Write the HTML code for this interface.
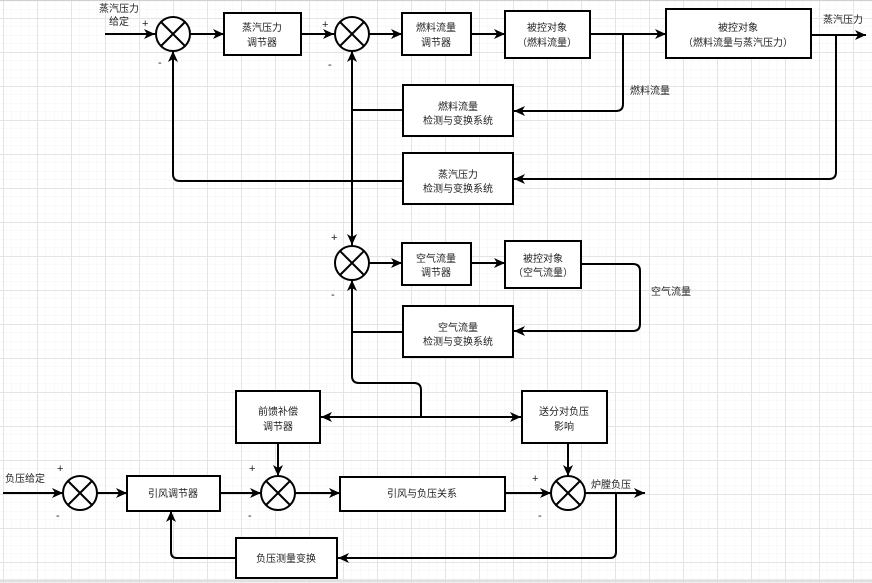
<!DOCTYPE html>
<html><head><meta charset="utf-8"><style>
html,body{margin:0;padding:0;background:#fff;}
svg{display:block;}
text{font-family:"Liberation Sans","Noto Sans CJK SC",sans-serif;font-size:10px;fill:#222;}
</style></head><body>
<svg width="872" height="583" viewBox="0 0 872 583" xmlns="http://www.w3.org/2000/svg">
<defs>
<pattern id="minor" width="8.5" height="8.5" patternUnits="userSpaceOnUse" x="3" y="1">
<path d="M0 0H8.5M0 0V8.5" stroke="#f3f3f3" stroke-width="1" fill="none"/>
</pattern>
<pattern id="major" width="34" height="34" patternUnits="userSpaceOnUse" x="3" y="18">
<path d="M0 0.5H34M0.5 0V34" stroke="#e4e4e4" stroke-width="1" fill="none"/>
</pattern>
<marker id="a" markerWidth="12" markerHeight="10" refX="11" refY="5" orient="auto" markerUnits="userSpaceOnUse">
<path d="M0 0L11 5L0 10L3 5Z" fill="#000"/>
</marker>
<marker id="as" markerWidth="12" markerHeight="10" refX="1" refY="5" orient="auto" markerUnits="userSpaceOnUse">
<path d="M12 0L1 5L12 10L9 5Z" fill="#000"/>
</marker>
</defs>
<rect width="872" height="583" fill="#fff"/>
<rect width="872" height="583" fill="url(#minor)"/>
<rect width="872" height="583" fill="url(#major)"/>
<line x1="0" y1="0.5" x2="872" y2="0.5" stroke="#d0d0d0"/>
<line x1="0" y1="581" x2="872" y2="581" stroke="#e0e0e0" stroke-width="3"/>

<g stroke="#000" stroke-width="2" fill="none">
<!-- top row -->
<line x1="105" y1="34" x2="155" y2="34" marker-end="url(#a)"/>
<line x1="190" y1="34" x2="224" y2="34" marker-end="url(#a)"/>
<line x1="301" y1="34" x2="334" y2="34" marker-end="url(#a)"/>
<line x1="369" y1="34" x2="402" y2="34" marker-end="url(#a)"/>
<line x1="471" y1="34" x2="505" y2="34" marker-end="url(#a)"/>
<line x1="590" y1="34" x2="666" y2="34" marker-end="url(#a)"/>
<line x1="811" y1="35" x2="866" y2="35" marker-end="url(#a)"/>
<path d="M623 34V104Q623 111 616 111H514" marker-end="url(#a)"/>
<path d="M836 35V172Q836 179 829 179H514" marker-end="url(#a)"/>
<path d="M403 181H180Q173 181 173 174V51" marker-end="url(#a)"/>
<path d="M403 110H352"/>
<line x1="352" y1="110" x2="352" y2="51" marker-end="url(#a)"/>
<line x1="352" y1="110" x2="352" y2="245" marker-end="url(#a)"/>
<!-- air row -->
<line x1="369" y1="263" x2="402" y2="263" marker-end="url(#a)"/>
<line x1="471" y1="263" x2="505" y2="263" marker-end="url(#a)"/>
<path d="M581 264H633Q640 264 640 271V324Q640 331 633 331H514" marker-end="url(#a)"/>
<path d="M403 332H352"/>
<path d="M421 417V390Q421 383 414 383H359Q352 383 352 376V280" marker-end="url(#a)"/>
<line x1="321" y1="417" x2="521" y2="417" marker-start="url(#as)" marker-end="url(#a)"/>
<!-- bottom row -->
<line x1="3" y1="493" x2="63" y2="493" marker-end="url(#a)"/>
<line x1="97" y1="493" x2="127" y2="493" marker-end="url(#a)"/>
<line x1="220" y1="493" x2="261" y2="493" marker-end="url(#a)"/>
<line x1="295" y1="493" x2="340" y2="493" marker-end="url(#a)"/>
<line x1="505" y1="493" x2="551" y2="493" marker-end="url(#a)"/>
<line x1="585" y1="493" x2="645" y2="493" marker-end="url(#a)"/>
<line x1="278" y1="443" x2="278" y2="476" marker-end="url(#a)"/>
<line x1="568" y1="443" x2="568" y2="476" marker-end="url(#a)"/>
<path d="M616 493V552Q616 558 610 558H338" marker-end="url(#a)"/>
<path d="M236 558H177Q171 558 171 552V511" marker-end="url(#a)"/>

<!-- summers -->
<g id="s">
</g>
<circle cx="173" cy="34" r="17" fill="#fff"/><path d="M161 22L185 46M185 22L161 46"/>
<circle cx="352" cy="34" r="17" fill="#fff"/><path d="M340 22L364 46M364 22L340 46"/>
<circle cx="352" cy="263" r="17" fill="#fff"/><path d="M340 251L364 275M364 251L340 275"/>
<circle cx="80" cy="493" r="17" fill="#fff"/><path d="M68 481L92 505M92 481L68 505"/>
<circle cx="278" cy="493" r="17" fill="#fff"/><path d="M266 481L290 505M290 481L266 505"/>
<circle cx="568" cy="493" r="17" fill="#fff"/><path d="M556 481L580 505M580 481L556 505"/>

<!-- boxes -->
<rect x="224" y="13" width="77" height="42" fill="#fff"/>
<rect x="402" y="13" width="69" height="42" fill="#fff"/>
<rect x="505" y="11" width="85" height="47" fill="#fff"/>
<rect x="666" y="9" width="145" height="49" fill="#fff"/>
<rect x="403" y="85" width="110" height="51" fill="#fff"/>
<rect x="403" y="153" width="110" height="51" fill="#fff"/>
<rect x="402" y="243" width="69" height="42" fill="#fff"/>
<rect x="505" y="241" width="76" height="47" fill="#fff"/>
<rect x="403" y="306" width="110" height="51" fill="#fff"/>
<rect x="236" y="391" width="84" height="52" fill="#fff"/>
<rect x="522" y="391" width="85" height="52" fill="#fff"/>
<rect x="127" y="476" width="93" height="35" fill="#fff"/>
<rect x="340" y="477" width="165" height="34" fill="#fff"/>
<rect x="236" y="538" width="101" height="40" fill="#fff"/>
</g>

<g text-anchor="middle">
<text x="262" y="31">蒸汽压力</text><text x="262" y="46">调节器</text>
<text x="436" y="31">燃料流量</text><text x="436" y="46">调节器</text>
<text x="547" y="31">被控对象</text><text x="547" y="46">（燃料流量）</text>
<text x="738" y="31">被控对象</text><text x="738" y="46">（燃料流量与蒸汽压力）</text>
<text x="458" y="110">燃料流量</text><text x="458" y="124">检测与变换系统</text>
<text x="458" y="178">蒸汽压力</text><text x="458" y="192">检测与变换系统</text>
<text x="436" y="262">空气流量</text><text x="436" y="276">调节器</text>
<text x="543" y="262">被控对象</text><text x="543" y="276">（空气流量）</text>
<text x="458" y="331">空气流量</text><text x="458" y="345">检测与变换系统</text>
<text x="278" y="415">前馈补偿</text><text x="278" y="430">调节器</text>
<text x="564" y="415">送分对负压</text><text x="564" y="430">影响</text>
<text x="173" y="497">引风调节器</text>
<text x="422" y="497">引风与负压关系</text>
<text x="286" y="562">负压测量变换</text>
<text x="119" y="12">蒸汽压力</text><text x="119" y="25">给定</text>
<text x="843" y="23">蒸汽压力</text>
</g>
<text x="630" y="94">燃料流量</text>
<text x="651" y="295">空气流量</text>
<text x="5" y="482">负压给定</text>
<text x="591" y="488">炉膛负压</text>
<g font-size="11">
<text x="142" y="27" style="font-size:11px">+</text><text x="158" y="66" style="font-size:11px">-</text>
<text x="322" y="28" style="font-size:11px">+</text><text x="328" y="68" style="font-size:11px">-</text>
<text x="331" y="241" style="font-size:11px">+</text><text x="331" y="298" style="font-size:11px">-</text>
<text x="57" y="472" style="font-size:11px">+</text><text x="56" y="519" style="font-size:11px">-</text>
<text x="249" y="472" style="font-size:11px">+</text><text x="248" y="519" style="font-size:11px">-</text>
<text x="532" y="482" style="font-size:11px">+</text><text x="538" y="519" style="font-size:11px">-</text>
</g>
</svg>
</body></html>
